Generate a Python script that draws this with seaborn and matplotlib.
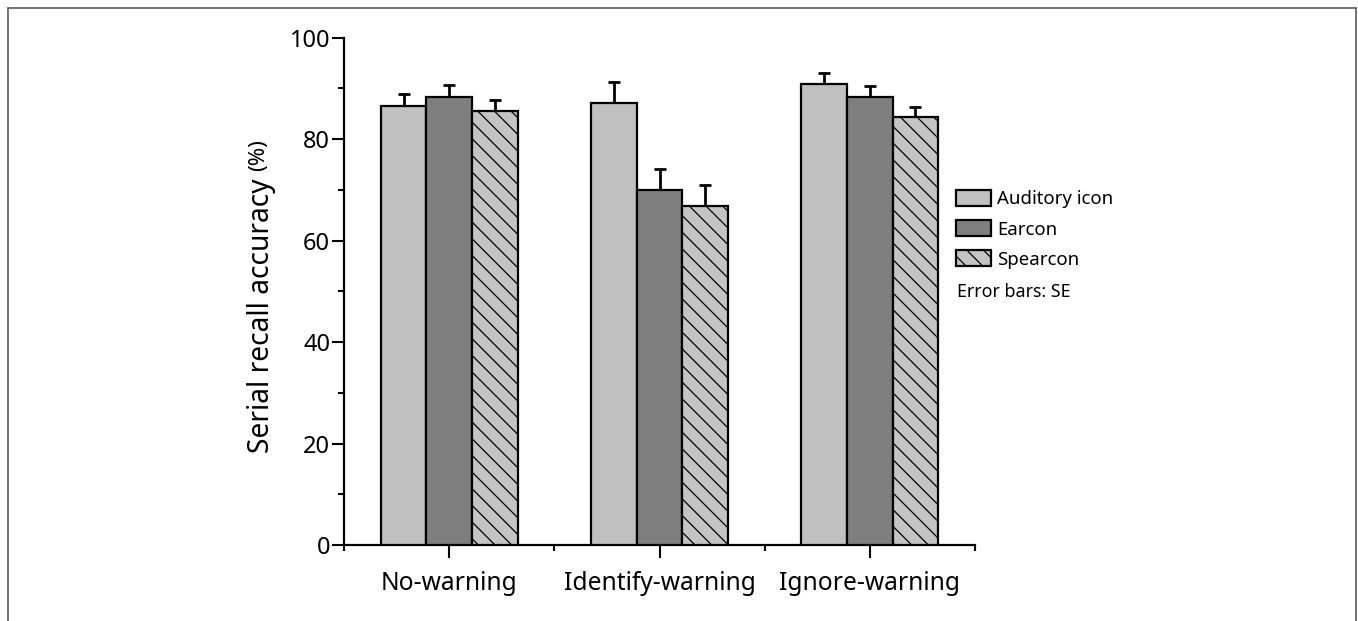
import numpy as np
import pandas as pd
import matplotlib
matplotlib.use("Agg")
import matplotlib.pyplot as plt
import seaborn as sns
from matplotlib.patches import Patch
from matplotlib.lines import Line2D
from matplotlib.ticker import MultipleLocator

# datos
conditions = ["No-warning", "Identify-warning", "Ignore-warning"]
sounds = ["Auditory icon", "Earcon", "Spearcon"]
auditory_icon = [86.5, 87.2, 90.9]
earcon = [88.3, 70.0, 88.3]
spearcon = [85.5, 66.8, 84.3]
se_auditory_icon = [2.5, 4.1, 2.1]
se_earcon = [2.4, 4.1, 2.1]
se_spearcon = [2.3, 4.2, 2.1]

df = pd.DataFrame({
    "condition": np.tile(conditions, 3),
    "sound": np.repeat(sounds, 3),
    "accuracy": auditory_icon + earcon + spearcon,
    "se": se_auditory_icon + se_earcon + se_spearcon,
})

sns.set_theme(style="white")
plt.rcParams["font.family"] = ["Noto Sans", "DejaVu Sans"]
plt.rcParams["hatch.linewidth"] = 0.9
plt.rcParams["text.color"] = "black"
plt.rcParams["xtick.color"] = "black"
plt.rcParams["ytick.color"] = "black"

colores = {"Auditory icon": "#c0c0c0", "Earcon": "#7f7f7f", "Spearcon": "#c4c4c4"}
tramas = {"Auditory icon": "", "Earcon": "", "Spearcon": "\\\\"}

fig = plt.figure(figsize=(13.58, 6.21), dpi=100)
ax = fig.add_axes([344 / 1358, 1 - 545 / 621, (975 - 344) / 1358, (545 - 37.7) / 621])

sns.barplot(data=df, x="condition", y="accuracy", hue="sound", order=conditions,
            hue_order=sounds, palette=colores, errorbar=None, width=0.65,
            edgecolor="black", linewidth=1.6, saturation=1, legend=False, ax=ax)

# trama y barras de error (solo hacia arriba)
for cont, s in zip(ax.containers, sounds):
    sub = df[df["sound"] == s].set_index("condition").loc[conditions]
    xs = []
    for bar in cont:
        bar.set_hatch(tramas[s])
        bar.set_zorder(3)
        xs.append(bar.get_x() + bar.get_width() / 2)
    ax.errorbar(xs, sub["accuracy"], yerr=[np.zeros(3), sub["se"]], fmt="none",
                ecolor="black", elinewidth=2, capsize=4.5, capthick=2, zorder=2)

ax.set_xlim(-0.5, 2.5)
ax.set_ylim(0, 100)
ax.yaxis.set_major_locator(MultipleLocator(20))
ax.yaxis.set_minor_locator(MultipleLocator(10))
ax.set_xticks([0, 1, 2])
ax.set_xticks([-0.5, 0.5, 1.5, 2.5], minor=True)
ax.tick_params(axis="both", which="major", direction="out", length=9, width=1.5,
               color="black", labelcolor="black")
ax.tick_params(axis="both", which="minor", direction="out", length=4.5, width=1.5,
               color="black")
ax.tick_params(axis="y", which="major", pad=1, labelsize=17)
ax.tick_params(axis="x", which="major", pad=10, labelsize=17.7)
ax.tick_params(bottom=True, left=True)
ax.tick_params(axis="x", which="minor", bottom=True)
ax.tick_params(axis="y", which="minor", left=True)

for lado in ["top", "right"]:
    ax.spines[lado].set_visible(False)
for lado in ["left", "bottom"]:
    ax.spines[lado].set_color("black")
    ax.spines[lado].set_linewidth(1.6)

ax.set_xlabel("")
ax.set_ylabel("")

# etiqueta del eje y con "(%)" mas chico
fig.text(262 / 1358, 1 - 316 / 621, "Serial recall accuracy", rotation=90,
         ha="center", va="center", fontsize=20.3)
fig.text(259 / 1358, 1 - 155 / 621, "(%)", rotation=90, ha="center", va="center",
         fontsize=16)

# leyenda
handles = [Patch(facecolor=colores[s], edgecolor="black", hatch=tramas[s], linewidth=1.6)
           for s in sounds]
fig.legend(handles, sounds, loc="upper left", bbox_to_anchor=(956 / 1358, 1 - 190 / 621),
           frameon=False, fontsize=13.4, handlelength=1.9, handleheight=0.95,
           handletextpad=0.3, labelspacing=0.63, borderpad=0, borderaxespad=0)
fig.text(957 / 1358, 1 - 292 / 621, "Error bars: SE", ha="left", va="center", fontsize=12.8)

# marco exterior
gris = "#5a5a5a"
x0, x1, y0 = 8 / 1358, 1356 / 1358, 1 - 8 / 621
fig.add_artist(Line2D([x0, x1], [y0, y0], color=gris, lw=1.2))
fig.add_artist(Line2D([x0, x0], [y0, 0], color=gris, lw=1.2))
fig.add_artist(Line2D([x1, x1], [y0, 0], color=gris, lw=1.2))

fig.savefig("out.png", dpi=100)
